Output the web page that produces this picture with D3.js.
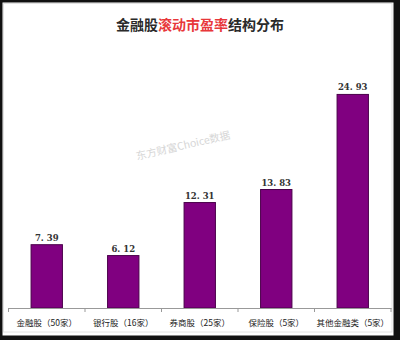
<!DOCTYPE html>
<html>
<head>
<meta charset="utf-8">
<script src="https://d3js.org/d3.v7.min.js"></script>
<style>
  body { margin: 0; background: #fff; }
  svg { display: block; }
</style>
</head>
<body>
<svg></svg>
<script>
    // 数据
    const categories = ['金融股（50家）', '银行股（16家）', '券商股（25家）', '保险股（5家）', '其他金融类（5家）'];
    const values = [7.39, 6.12, 12.31, 13.83, 24.93];
    const titleParts = [
        { text: '金融股', color: '#2a2a2a' },
        { text: '滚动市盈率', color: '#e8373a' },
        { text: '结构分布', color: '#2a2a2a' }
    ];

    const width = 400;
    const height = 340;
    const margin = { top: 51, right: 9, bottom: 32, left: 8.5 };

    const svg = d3.select('svg')
        .attr('width', width)
        .attr('height', height);

    // 外框
    svg.append('rect')
        .attr('width', width).attr('height', height)
        .attr('fill', '#111');
    svg.append('rect')
        .attr('x', 2.5).attr('y', 2.5)
        .attr('width', 391).attr('height', 333)
        .attr('fill', '#fff');
    svg.append('rect')
        .attr('x', 3.5).attr('y', 3.5)
        .attr('width', 388.5).attr('height', 328.5)
        .attr('fill', 'none')
        .attr('stroke', '#e2e2e2')
        .attr('stroke-width', 1);

    const x = d3.scaleBand()
        .domain(categories)
        .range([margin.left, width - margin.right])
        .paddingInner(0.59)
        .paddingOuter(0.295);

    const xTick = d3.scaleBand()
        .domain(categories)
        .range([margin.left, width - margin.right]);

    const y = d3.scaleLinear()
        .domain([0, 30])
        .range([height - margin.bottom, margin.top]);

    // 标题
    const title = svg.append('text')
        .attr('x', width / 2)
        .attr('y', 30)
        .attr('text-anchor', 'middle')
        .attr('font-family', '"Noto Sans CJK SC", sans-serif')
        .attr('font-weight', 'bold')
        .attr('font-size', 14);
    title.selectAll('tspan')
        .data(titleParts)
        .join('tspan')
        .attr('fill', d => d.color)
        .text(d => d.text);

    // 水印
    svg.append('text')
        .attr('transform', 'translate(137,160) rotate(-13)')
        .attr('font-family', '"Noto Sans CJK SC", sans-serif')
        .attr('font-size', 10.5)
        .attr('fill', '#d6d6d6')
        .text('东方财富Choice数据');

    // 柱子
    svg.append('g')
        .selectAll('rect')
        .data(values)
        .join('rect')
            .attr('x', (d, i) => x(categories[i]))
            .attr('y', d => y(d))
            .attr('width', x.bandwidth())
            .attr('height', d => y(0) - y(d))
            .attr('fill', '#800080')
            .attr('stroke', '#4a004a')
            .attr('stroke-width', 1);

    // 数值标签
    svg.append('g')
        .selectAll('text')
        .data(values)
        .join('text')
            .attr('x', (d, i) => x(categories[i]) + x.bandwidth() / 2)
            .attr('y', d => y(d) - 4)
            .attr('text-anchor', 'middle')
            .attr('font-family', '"DejaVu Serif", "Liberation Serif", serif')
            .attr('font-size', 8.5)
            .attr('font-weight', 'bold')
            .attr('fill', '#333')
            .text(d => d3.format('.2f')(d).replace('.', '. '));

    // x 轴
    const axis = svg.append('g')
        .attr('transform', `translate(0,${y(0)})`)
        .call(d3.axisBottom(xTick).tickSize(0).tickFormat(''));
    axis.select('.domain').attr('stroke', '#999');
    axis.selectAll('.tick').remove();

    axis.selectAll('.sep')
        .data(d3.range(categories.length + 1))
        .join('line')
            .attr('class', 'sep')
            .attr('x1', i => margin.left + i * xTick.step())
            .attr('x2', i => margin.left + i * xTick.step())
            .attr('y1', 0)
            .attr('y2', 4)
            .attr('stroke', '#999');

    svg.append('g')
        .selectAll('text')
        .data(categories)
        .join('text')
            .attr('x', d => xTick(d) + xTick.bandwidth() / 2)
            .attr('y', y(0) + 18)
            .attr('text-anchor', 'middle')
            .attr('font-family', '"Noto Sans CJK SC", sans-serif')
            .attr('font-size', 8.5)
            .attr('fill', '#222')
            .text(d => d);
</script>
</body>
</html>
